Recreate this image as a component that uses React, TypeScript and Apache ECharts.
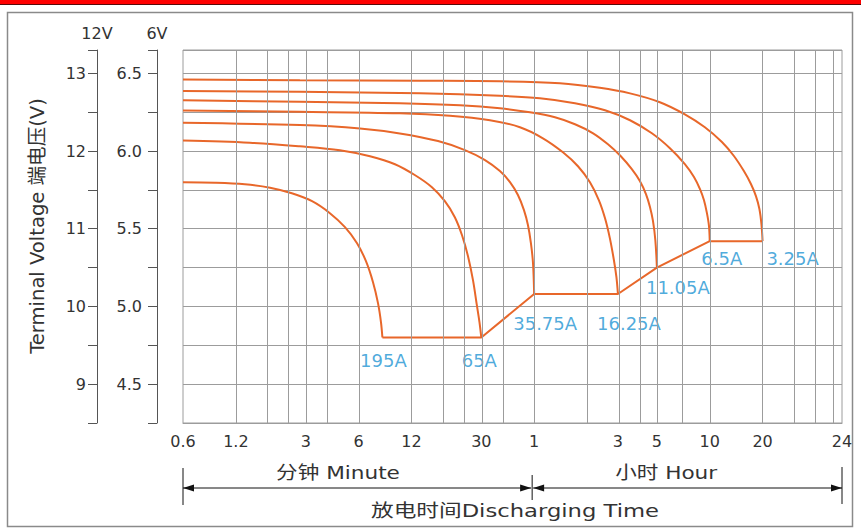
import React, { useEffect, useRef } from "react";
import * as echarts from "echarts";

// X axis (time in minutes, drawn on a log10 value scale)
const xTickMinutes = [0.6, 1.2, 3, 6, 12, 30, 60, 180, 300, 600, 1200, 3400];
const xTickLabels = ["0.6", "1.2", "3", "6", "12", "30", "1", "3", "5", "10", "20", "24"];
const xGridMinutes = [1.2, 1.8, 2.4, 3, 4, 6, 12, 18, 24, 30, 40, 60, 120, 180, 240, 300, 420, 600, 1200, 1800, 2400, 3000];

// Discharge curves (time in minutes, voltage on 6V scale)
const t325 = [0.6, 2.78, 13.4, 38.3, 84.2, 142, 211, 312, 433, 563, 704, 824, 939, 1030, 1100, 1151, 1182, 1200];
const v325 = [6.46, 6.455, 6.452, 6.449, 6.436, 6.407, 6.371, 6.314, 6.236, 6.153, 6.058, 5.968, 5.871, 5.788, 5.71, 5.627, 5.53, 5.42];

const t650 = [0.6, 2.78, 13.4, 38.3, 64.7, 102.5, 152, 211, 281, 356, 433, 488, 528, 556, 578, 594, 600];
const v650 = [6.386, 6.381, 6.371, 6.355, 6.339, 6.307, 6.262, 6.198, 6.114, 6.018, 5.916, 5.833, 5.755, 5.685, 5.602, 5.518, 5.42];

const t1105 = [0.6, 2.78, 10.3, 22.7, 38.3, 56.8, 78.8, 102.5, 130, 158, 187, 216, 240, 260, 274, 285, 294, 300];
const v1105 = [6.326, 6.317, 6.307, 6.294, 6.275, 6.249, 6.217, 6.172, 6.114, 6.043, 5.966, 5.883, 5.807, 5.723, 5.64, 5.55, 5.427, 5.253];

const t1625 = [0.6, 2.78, 10.3, 19.9, 33.6, 49.8, 67.3, 87.5, 106.6, 124.7, 140.3, 152, 162, 170.8, 176.5, 180];
const v1625 = [6.26, 6.252, 6.243, 6.227, 6.198, 6.153, 6.082, 5.992, 5.902, 5.799, 5.683, 5.567, 5.438, 5.297, 5.188, 5.08];

const t3575 = [0.6, 2.78, 6.11, 10.3, 17.0, 24.2, 31.5, 38.3, 43.7, 48.5, 52.5, 55.3, 57.5, 59.1, 60];
const v3575 = [6.182, 6.167, 6.145, 6.113, 6.064, 6.006, 5.942, 5.871, 5.8, 5.717, 5.62, 5.524, 5.408, 5.279, 5.08];

const t6500 = [0.6, 1.44, 2.78, 4.7, 6.97, 9.67, 12.6, 15.7, 18.6, 21.2, 23.3, 25.2, 26.9, 28.3, 29.3, 30];
const v6500 = [6.067, 6.053, 6.03, 6.005, 5.966, 5.915, 5.844, 5.767, 5.677, 5.574, 5.458, 5.323, 5.169, 5.008, 4.898, 4.8];

const t195 = [0.6, 0.913, 1.35, 1.88, 2.5, 3.26, 4.12, 5.02, 5.88, 6.61, 7.25, 7.74, 8.05, 8.2];
const v195 = [5.799, 5.796, 5.786, 5.764, 5.728, 5.677, 5.6, 5.51, 5.407, 5.291, 5.156, 5.021, 4.898, 4.8];

// Cut-off (end) points and their current labels
const cutT = [8.2, 30, 60, 180, 300, 600, 1200];
const cutV = [4.8, 4.8, 5.08, 5.08, 5.25, 5.42, 5.42];
const cutLabels = ["195A", "65A", "35.75A", "16.25A", "11.05A", "6.5A", "3.25A"];

const LX = (m: number) => Math.log10(m);

export default function App() {
  const ref = useRef<HTMLDivElement>(null);

  useEffect(() => {
    const el = ref.current!;
    const chart = echarts.init(el, null, { renderer: "svg" });
    const font = "'DejaVu Sans', 'Noto Sans CJK SC', sans-serif";
    const gridColor = "#9c9c9c";
    const curveColor = "#e8672a";
    const blue = "#1f95d3";
    const textColor = "#333";

    const curves = [
      [t325, v325],
      [t650, v650],
      [t1105, v1105],
      [t1625, v1625],
      [t3575, v3575],
      [t6500, v6500],
      [t195, v195],
    ];

    const labelOffsets = [
      [1, 23],
      [-2, 23],
      [11, 29],
      [11, 29],
      [21, 20],
      [12, 17],
      [30, 17],
    ];

    const series: any[] = [];
    series.push({
      type: "line",
      name: "grid",
      data: [],
      silent: true,
      z: 1,
      markLine: {
        silent: true,
        symbol: ["none", "none"],
        label: { show: false },
        emphasis: { disabled: true },
        lineStyle: { color: gridColor, width: 1, type: "solid" },
        data: xGridMinutes.map((m) => ({ xAxis: LX(m) })),
      },
    });
    curves.forEach((c, i) => {
      series.push({
        type: "line",
        name: cutLabels[6 - i],
        data: c[0].map((t, j) => [LX(t), c[1][j]]),
        smooth: 0.35,
        symbol: "none",
        showSymbol: false,
        silent: true,
        z: 3,
        lineStyle: { color: curveColor, width: 2 },
      });
    });
    series.push({
      type: "line",
      name: "cutoff",
      data: cutT.map((t, j) => [LX(t), cutV[j]]),
      symbol: "none",
      silent: true,
      z: 3,
      lineStyle: { color: curveColor, width: 2 },
    });
    series.push({
      type: "scatter",
      name: "labels",
      symbolSize: 0,
      silent: true,
      z: 4,
      data: cutT.map((t, j) => ({
        value: [LX(t), cutV[j]],
        label: { offset: labelOffsets[j] },
      })),
      label: {
        show: true,
        position: "inside",
        formatter: (p: any) => cutLabels[p.dataIndex],
        color: blue,
        fontSize: 18,
        fontFamily: font,
      },
    });

    const option: any = {
      animation: false,
      backgroundColor: "#fff",
      grid: {
        left: 183,
        right: 19,
        top: 50,
        bottom: 106,
        show: true,
        borderColor: gridColor,
        borderWidth: 1,
        backgroundColor: "transparent",
      },
      xAxis: {
        type: "value",
        min: LX(0.6),
        max: LX(3400),
        axisLine: { show: true, onZero: false, lineStyle: { color: gridColor } },
        axisTick: { show: false },
        splitLine: { show: false },
        axisLabel: {
          customValues: xTickMinutes.map(LX),
          showMinLabel: true,
          showMaxLabel: true,
          formatter: (v: number) => {
            const i = xTickMinutes.findIndex((m) => Math.abs(LX(m) - v) < 1e-6);
            return i >= 0 ? xTickLabels[i] : "";
          },
          color: textColor,
          fontSize: 16,
          fontFamily: font,
          margin: 10,
        },
      },
      yAxis: [
        {
          type: "value",
          position: "left",
          offset: 26,
          min: 4.25,
          max: 6.65,
          interval: 0.25,
          name: "6V",
          nameLocation: "end",
          nameGap: 9,
          nameTextStyle: { color: textColor, fontSize: 16, fontFamily: font },
          axisLine: { show: true, onZero: false, lineStyle: { color: "#555" } },
          axisTick: { show: true, length: 9, lineStyle: { color: "#555" } },
          axisLabel: {
            formatter: (v: number) =>
              Math.abs(v * 2 - Math.round(v * 2)) < 1e-6 ? v.toFixed(1) : "",
            margin: 15,
            color: textColor,
            fontSize: 16,
            fontFamily: font,
          },
          splitLine: { show: true, lineStyle: { color: gridColor, width: 1 } },
        },
        {
          type: "value",
          position: "left",
          offset: 86,
          min: 8.5,
          max: 13.3,
          interval: 0.5,
          name: "12V",
          nameLocation: "end",
          nameGap: 9,
          nameTextStyle: { color: textColor, fontSize: 16, fontFamily: font },
          axisLine: { show: true, onZero: false, lineStyle: { color: "#555" } },
          axisTick: { show: true, length: 9, lineStyle: { color: "#555" } },
          axisLabel: {
            formatter: (v: number) =>
              Math.abs(v - Math.round(v)) < 1e-6 ? String(Math.round(v)) : "",
            margin: 11,
            color: textColor,
            fontSize: 16,
            fontFamily: font,
          },
          splitLine: { show: false },
        },
      ],
      series,
    };

    chart.setOption(option);

    const px = (m: number) => chart.convertToPixel({ xAxisIndex: 0 }, LX(m)) as number;
    const x0 = px(0.6);
    const xm = px(60) - 2;
    const x1 = px(3400);
    const ay = 488;
    const dark = "#111";
    const txt = (text: string, x: number, y: number, size: number, sx: number, extra: any = {}) => ({
      type: "text",
      x,
      y,
      scaleX: sx,
      silent: true,
      ...extra,
      style: {
        text,
        fill: textColor,
        fontSize: size,
        fontFamily: font,
        textAlign: "center",
        align: "center",
        textVerticalAlign: "middle",
        verticalAlign: "middle",
      },
    });
    const arrow = (tip: number, dir: number) => ({
      type: "polygon",
      silent: true,
      shape: { points: [[tip, ay], [tip - dir * 11, ay - 3.5], [tip - dir * 11, ay + 3.5]] },
      style: { fill: dark },
    });
    const vline = (x: number, ya: number, yb: number) => ({
      type: "line",
      silent: true,
      shape: { x1: x, y1: ya, x2: x, y2: yb },
      style: { stroke: dark, lineWidth: 1 },
    });

    chart.setOption({
      graphic: [
        { type: "rect", silent: true, shape: { x: 0, y: 0, width: 861, height: 4 }, style: { fill: "#ff0000" } },
        { type: "rect", silent: true, shape: { x: 0, y: 4, width: 861, height: 1 }, style: { fill: "#5a0a0a" } },
        {
          type: "rect",
          silent: true,
          shape: { x: 7.5, y: 12.5, width: 845, height: 514 },
          style: { fill: "none", stroke: "#8a8a8a", lineWidth: 1.5 },
        },
        txt("Terminal Voltage 端电压(V)", 38, 226, 19, 1.03, { rotation: Math.PI / 2 }),
        { type: "line", silent: true, shape: { x1: x0, y1: ay, x2: xm - 1, y2: ay }, style: { stroke: dark, lineWidth: 1 } },
        { type: "line", silent: true, shape: { x1: xm + 1, y1: ay, x2: x1, y2: ay }, style: { stroke: dark, lineWidth: 1 } },
        arrow(x0, -1),
        arrow(xm - 1, 1),
        arrow(xm + 1, -1),
        arrow(x1, 1),
        vline(x0, 468, 505),
        vline(xm, 475, 500),
        vline(x1, 467, 504),
        txt("分钟 Minute", x0 + 155, 473, 18, 1.2),
        txt("小时 Hour", xm + 134, 473, 18, 1.2),
        txt("放电时间Discharging Time", 515, 511, 18, 1.26),
      ],
    });

    return () => {
      chart.dispose();
    };
  }, []);

  return (
    <div
      ref={ref}
      style={{ position: "fixed", left: 0, top: 0, width: 861, height: 529, background: "#fff" }}
    />
  );
}
